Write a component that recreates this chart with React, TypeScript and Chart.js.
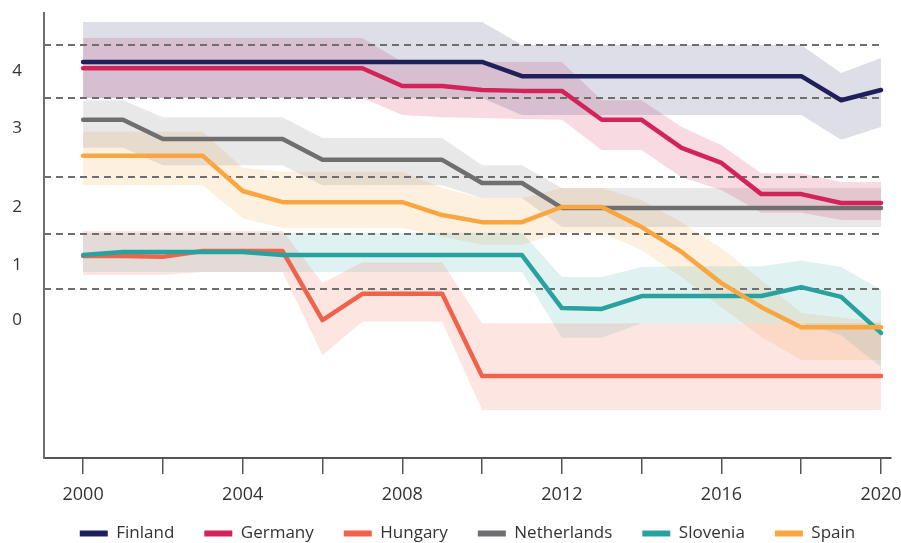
import React, { useEffect, useRef } from 'react';
import { Chart, registerables } from 'chart.js';

Chart.register(...registerables);

const years = [2000, 2001, 2002, 2003, 2004, 2005, 2006, 2007, 2008, 2009, 2010, 2011, 2012, 2013, 2014, 2015, 2016, 2017, 2018, 2019, 2020];
const xTickYears = [2000, 2002, 2004, 2006, 2008, 2010, 2012, 2014, 2016, 2018, 2020];
const xLabelYears = [2000, 2004, 2008, 2012, 2016, 2020];
const yLabelValues = [8.7, 7.42, 5.64, 4.34, 3.1];
const yLabelTexts = ['4', '3', '2', '1', '0'];
const bandBoundaries = [9.28, 8.09, 6.31, 5.03, 3.8];

const seriesNames = ['Finland', 'Germany', 'Hungary', 'Netherlands', 'Slovenia', 'Spain'];

const finland = [8.9, 8.9, 8.9, 8.9, 8.9, 8.9, 8.9, 8.9, 8.9, 8.9, 8.9, 8.58, 8.58, 8.58, 8.58, 8.58, 8.58, 8.58, 8.58, 8.04, 8.27];
const finlandHigh = [9.8, 9.8, 9.8, 9.8, 9.8, 9.8, 9.8, 9.8, 9.8, 9.8, 9.8, 9.28, 9.28, 9.28, 9.28, 9.28, 9.28, 9.28, 9.28, 8.65, 8.99];
const finlandLow = [8.09, 8.09, 8.09, 8.09, 8.09, 8.09, 8.09, 8.09, 8.09, 8.09, 8.09, 7.71, 7.71, 7.71, 7.71, 7.71, 7.71, 7.71, 7.71, 7.15, 7.44];

const germany = [8.76, 8.76, 8.76, 8.76, 8.76, 8.76, 8.76, 8.76, 8.36, 8.36, 8.27, 8.25, 8.25, 7.6, 7.6, 6.97, 6.63, 5.93, 5.93, 5.73, 5.73];
const germanyHigh = [9.44, 9.44, 9.44, 9.44, 9.44, 9.44, 9.44, 9.44, 8.9, 8.9, 8.9, 8.9, 8.9, 8.04, 8.04, 7.44, 7.03, 6.4, 6.4, 6.2, 6.2];
const germanyLow = [8.09, 8.09, 8.09, 8.09, 8.09, 8.09, 8.09, 8.09, 7.71, 7.66, 7.64, 7.62, 7.6, 6.92, 6.92, 6.31, 6.02, 5.51, 5.51, 5.35, 5.35];

const hungary = [4.54, 4.54, 4.52, 4.65, 4.65, 4.65, 3.1, 3.69, 3.69, 3.69, 1.84, 1.84, 1.84, 1.84, 1.84, 1.84, 1.84, 1.84, 1.84, 1.84, 1.84];
const hungaryHigh = [5.1, 5.1, 5.1, 5.1, 5.1, 5.1, 3.93, 4.4, 4.4, 4.4, 3.03, 3.03, 3.03, 3.03, 3.03, 3.03, 3.03, 3.03, 3.03, 3.03, 3.03];
const hungaryLow = [4.11, 4.11, 4.11, 4.18, 4.18, 4.18, 2.31, 3.06, 3.06, 3.06, 1.08, 1.08, 1.08, 1.08, 1.08, 1.08, 1.08, 1.08, 1.08, 1.08, 1.08];

const netherlands = [7.6, 7.6, 7.17, 7.17, 7.17, 7.17, 6.7, 6.7, 6.7, 6.7, 6.18, 6.18, 5.62, 5.62, 5.62, 5.62, 5.62, 5.62, 5.62, 5.62, 5.62];
const netherlandsHigh = [8.04, 8.04, 7.66, 7.66, 7.66, 7.66, 7.19, 7.19, 7.19, 7.19, 6.58, 6.58, 6.07, 6.07, 6.07, 6.07, 6.07, 6.07, 6.07, 6.07, 6.07];
const netherlandsLow = [6.97, 6.97, 6.58, 6.58, 6.58, 6.58, 6.13, 6.13, 6.13, 6.13, 5.84, 5.84, 5.19, 5.19, 5.19, 5.19, 5.19, 5.19, 5.19, 5.19, 5.19];

const slovenia = [4.56, 4.63, 4.63, 4.63, 4.63, 4.56, 4.56, 4.56, 4.56, 4.56, 4.56, 4.56, 3.37, 3.35, 3.64, 3.64, 3.64, 3.64, 3.84, 3.62, 2.81];
const sloveniaHigh = [5.06, 5.06, 5.06, 5.06, 5.06, 5.06, 5.06, 5.06, 5.06, 5.06, 5.06, 5.06, 4.07, 4.07, 4.29, 4.31, 4.31, 4.31, 4.44, 4.29, 3.78];
const sloveniaLow = [4.18, 4.18, 4.18, 4.18, 4.18, 4.18, 4.18, 4.18, 4.18, 4.18, 4.18, 4.18, 2.7, 2.7, 3.03, 3.03, 3.03, 3.03, 3.03, 2.76, 2.04];

const spain = [6.79, 6.79, 6.79, 6.79, 6.0, 5.75, 5.75, 5.75, 5.75, 5.46, 5.3, 5.3, 5.64, 5.64, 5.19, 4.63, 3.93, 3.39, 2.94, 2.94, 2.94];
const spainHigh = [7.33, 7.33, 7.33, 7.33, 6.52, 6.43, 6.43, 6.43, 6.43, 6.07, 5.84, 5.84, 6.07, 6.07, 5.8, 5.3, 4.72, 4.0, 3.26, 3.15, 3.06];
const spainLow = [6.13, 6.13, 6.13, 6.13, 5.39, 5.17, 5.17, 5.17, 5.17, 4.97, 4.79, 4.79, 5.06, 5.06, 4.67, 4.07, 3.39, 2.72, 2.2, 2.2, 2.2];

const seriesValues = [finland, germany, hungary, netherlands, slovenia, spain];
const seriesHigh = [finlandHigh, germanyHigh, hungaryHigh, netherlandsHigh, sloveniaHigh, spainHigh];
const seriesLow = [finlandLow, germanyLow, hungaryLow, netherlandsLow, sloveniaLow, spainLow];

const seriesColors = ['#1f1f5c', '#d3235b', '#f0634a', '#6f6f71', '#28a29f', '#f9a640'];
const bandColors = [
  'rgba(31,31,92,0.15)',
  'rgba(211,35,91,0.17)',
  'rgba(240,99,74,0.16)',
  'rgba(111,111,113,0.16)',
  'rgba(40,162,159,0.15)',
  'rgba(249,166,64,0.17)',
];

const FONT = "'Open Sans', 'DejaVu Sans', sans-serif";

const toPoints = (arr: number[]) => years.map((yr, i) => ({ x: yr, y: arr[i] }));

const dashedBandsPlugin = {
  id: 'dashedBands',
  beforeDatasetsDraw(chart: any) {
    const { ctx, chartArea, scales } = chart;
    const xs = scales.x;
    const ys = scales.y;
    const xEnd = xs.getPixelForValue(years[years.length - 1]);
    ctx.save();
    ctx.strokeStyle = '#6e6e6e';
    ctx.lineWidth = 2;
    ctx.setLineDash([7, 5]);
    bandBoundaries.forEach((v) => {
      const py = Math.round(ys.getPixelForValue(v));
      ctx.beginPath();
      ctx.moveTo(chartArea.left, py);
      ctx.lineTo(xEnd, py);
      ctx.stroke();
    });
    ctx.restore();
  },
};

export default function App() {
  const canvasRef = useRef<HTMLCanvasElement | null>(null);

  useEffect(() => {
    if (!canvasRef.current) return;
    Chart.defaults.font.family = FONT;

    const lineSets = seriesNames.map((name, i) => ({
      label: name,
      data: toPoints(seriesValues[i]),
      borderColor: seriesColors[i],
      backgroundColor: seriesColors[i],
      borderWidth: 4.5,
      pointRadius: 0,
      pointHoverRadius: 0,
      fill: false,
      tension: 0,
      borderJoinStyle: 'round' as const,
      borderCapStyle: 'round' as const,
      order: 6 - i,
    }));

    const bandSets: any[] = [];
    seriesNames.forEach((name, i) => {
      bandSets.push({
        label: name + ' high',
        data: toPoints(seriesHigh[i]),
        borderWidth: 0,
        borderColor: 'rgba(0,0,0,0)',
        backgroundColor: bandColors[i],
        pointRadius: 0,
        fill: '+1',
        tension: 0,
        order: 20,
      });
      bandSets.push({
        label: name + ' low',
        data: toPoints(seriesLow[i]),
        borderWidth: 0,
        borderColor: 'rgba(0,0,0,0)',
        backgroundColor: 'rgba(0,0,0,0)',
        pointRadius: 0,
        fill: false,
        tension: 0,
        order: 20,
      });
    });

    const chart = new Chart(canvasRef.current, {
      type: 'line',
      data: { datasets: [...lineSets, ...bandSets] },
      options: {
        responsive: false,
        animation: false,
        events: [],
        layout: { padding: { top: 13, right: 10, left: 0, bottom: 0 } },
        scales: {
          x: {
            type: 'linear',
            min: 1999.02,
            max: 2020.25,
            afterBuildTicks: (s: any) => {
              s.ticks = xTickYears.map((v) => ({ value: v }));
            },
            afterFit: (s: any) => {
              s.height = 37;
              s.paddingLeft = 0;
              s.paddingRight = 0;
              // let the year labels extend below the axis box (no clipping)
              s._computeLabelArea = () => undefined;
            },
            ticks: {
              autoSkip: false,
              maxRotation: 0,
              padding: 10,
              color: '#333',
              font: { size: 18, family: FONT },
              callback: (v: any) => (xLabelYears.includes(Number(v)) ? String(v) : ''),
            },
            grid: {
              display: true,
              drawOnChartArea: false,
              drawTicks: true,
              tickLength: 16,
              color: '#555',
              lineWidth: 1.5,
            },
            border: { display: true, color: '#555', width: 2 },
          },
          y: {
            type: 'linear',
            position: 'left',
            min: 0,
            max: 10,
            afterBuildTicks: (s: any) => {
              s.ticks = yLabelValues.map((v) => ({ value: v }));
            },
            afterFit: (s: any) => {
              s.width = 44;
              s.paddingTop = 0;
              s.paddingBottom = 0;
            },
            ticks: {
              padding: 22,
              color: '#333',
              font: { size: 17, family: FONT },
              callback: (v: any) => {
                const idx = yLabelValues.indexOf(Number(v));
                return idx >= 0 ? yLabelTexts[idx] : '';
              },
            },
            grid: { display: false, drawTicks: false },
            border: { display: true, color: '#6e6e6e', width: 2, dash: [7, 5] },
          },
        },
        plugins: {
          filler: { drawTime: 'beforeDatasetsDraw' },
          tooltip: { enabled: false },
          title: { display: false },
          legend: {
            display: true,
            position: 'bottom',
            fullSize: false,
            labels: {
              color: '#333',
              font: { size: 17, family: FONT },
              boxWidth: 28,
              boxHeight: 6,
              padding: 30,
              generateLabels: () =>
                seriesNames.map((name, i) => ({
                  text: name,
                  fillStyle: seriesColors[i],
                  strokeStyle: seriesColors[i],
                  lineWidth: 0,
                  hidden: false,
                  datasetIndex: i,
                  fontColor: '#333',
                })),
            },
          },
        },
      } as any,
      plugins: [dashedBandsPlugin],
    });

    return () => {
      chart.destroy();
    };
  }, []);

  return (
    <div style={{ position: 'absolute', left: 0, top: 0, width: 901, height: 543, overflow: 'hidden', background: '#fff' }}>
      <canvas ref={canvasRef} width={901} height={552} style={{ display: 'block' }} />
    </div>
  );
}
